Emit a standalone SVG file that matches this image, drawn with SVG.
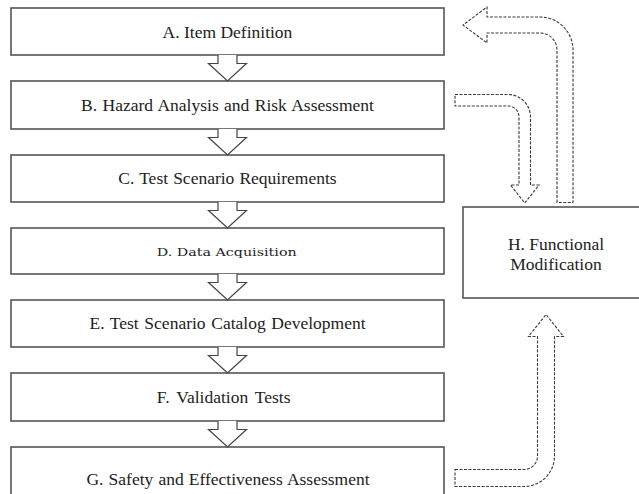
<svg xmlns="http://www.w3.org/2000/svg" width="639" height="494" viewBox="0 0 639 494">
  <style>
    .box { fill: #ffffff; stroke: #555555; stroke-width: 1.6; }
    .lbl { font-size: 17.5px; fill: #222222; text-anchor: middle; }
    .lbl-alt { font-size: 11.6px; fill: #222222; text-anchor: middle; }
    .flow { fill: #ffffff; stroke: #444444; stroke-width: 1.2; stroke-linejoin: miter; }
    .loop { fill: #ffffff; stroke: #3a3a3a; stroke-width: 1.1; stroke-dasharray: 3 1.5; }
  </style>
  <rect x="0" y="0" width="639" height="494" fill="#ffffff"/>

  <g id="node-a">
    <rect class="box" x="11" y="8" width="433" height="47"/>
    <text class="lbl" font-family="Liberation Serif, serif" x="227.5" y="38.3">A. Item Definition</text>
  </g>
  <g id="node-b">
    <rect class="box" x="11" y="81" width="433" height="48"/>
    <text class="lbl" font-family="Liberation Serif, serif" x="227.5" y="111" word-spacing="1">B. Hazard Analysis and Risk Assessment</text>
  </g>
  <g id="node-c">
    <rect class="box" x="11" y="155" width="433" height="47"/>
    <text class="lbl" font-family="Liberation Serif, serif" x="227.5" y="184.3" word-spacing="0.7">C. Test Scenario Requirements</text>
  </g>
  <g id="node-d">
    <rect class="box" x="11" y="228" width="433" height="46"/>
    <text class="lbl-alt" font-family="DejaVu Serif, serif" x="226.7" y="255.7" textLength="140" lengthAdjust="spacingAndGlyphs">D. Data Acquisition</text>
  </g>
  <g id="node-e">
    <rect class="box" x="11" y="300" width="433" height="47"/>
    <text class="lbl" font-family="Liberation Serif, serif" x="227.5" y="329" word-spacing="1.25">E. Test Scenario Catalog Development</text>
  </g>
  <g id="node-f">
    <rect class="box" x="11" y="373" width="433" height="48"/>
    <text class="lbl" font-family="Liberation Serif, serif" x="223.7" y="402.7" word-spacing="2.6">F. Validation Tests</text>
  </g>
  <g id="node-g">
    <rect class="box" x="11" y="447" width="433" height="60"/>
    <text class="lbl" font-family="Liberation Serif, serif" x="228" y="485" word-spacing="0.75">G. Safety and Effectiveness Assessment</text>
  </g>
  <g id="node-h">
    <rect class="box" x="463" y="207" width="190" height="91"/>
    <text class="lbl" font-family="Liberation Serif, serif" x="556" y="250">H. Functional</text>
    <text class="lbl" font-family="Liberation Serif, serif" x="556" y="270">Modification</text>
  </g>

  <g id="connectors">
    <!-- solid block arrows down the main chain -->
    <path class="flow" d="M218,55 V63.5 H208.5 L227.5,81 L246.5,63.5 H237 V55"/>
    <path class="flow" d="M218,129 V137.5 H208.5 L227.5,155 L246.5,137.5 H237 V129"/>
    <path class="flow" d="M218,202 V210.5 H208.5 L227.5,228 L246.5,210.5 H237 V202"/>
    <path class="flow" d="M218,274 V282.5 H208.5 L227.5,300 L246.5,282.5 H237 V274"/>
    <path class="flow" d="M218,347 V355.5 H208.5 L227.5,373 L246.5,355.5 H237 V347"/>
    <path class="flow" d="M218,421 V429.5 H208.5 L227.5,447 L246.5,429.5 H237 V421"/>

    <!-- dashed loop arrows through H -->
    <path class="loop" d="M557,202.5 V50 A17,17 0 0 0 540,33 H487 V43 L463,25 L487,7 V17 H540 A33,33 0 0 1 573,50 V202.5 Z"/>
    <path class="loop" d="M455,94.5 H508 A22.5,22.5 0 0 1 530.5,117 V185 H539 L524.75,203 L510.5,185 H519 V117 A11,11 0 0 0 508,106 H455 Z"/>
    <path class="loop" d="M455,469.5 H524 A13.5,13.5 0 0 0 537.5,456 V336.5 H528.5 L546,314.5 L563.5,336.5 H554.5 V456 A30.5,30.5 0 0 1 524,486.5 H455 Z"/>
  </g>
</svg>
